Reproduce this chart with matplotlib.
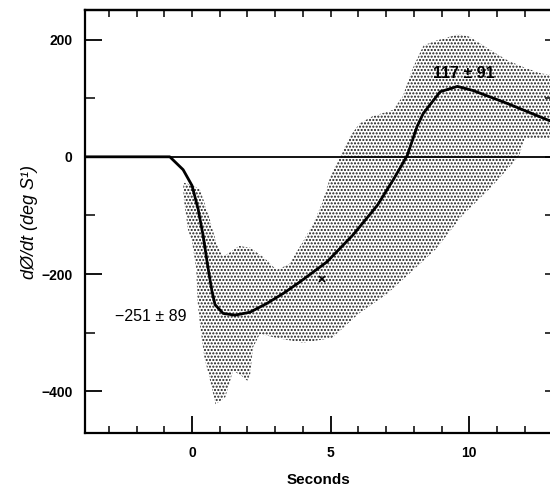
import numpy as np
import matplotlib
matplotlib.use('Agg')
import matplotlib.pyplot as plt

plt.rcParams['font.family'] = ['Liberation Sans', 'DejaVu Sans']
plt.rcParams['hatch.linewidth'] = 1.0

# mean angular velocity trace (s, deg/s)
mean_t = [-3.86, -0.8, -0.32, 0.0, 0.22, 0.4, 0.58, 0.72, 0.83, 1.12, 1.55, 2.09,
          2.7, 3.29, 3.9, 4.87, 5.81, 6.68, 7.26, 7.76, 8.12, 8.34, 8.95, 9.57,
          10.14, 11.37, 12.82, 13.0]
mean_v = [0, 0, -22, -49, -89, -134, -190, -229, -252, -267, -270, -265,
          -250, -233, -213, -179, -133, -83, -39, 2, 52, 74, 111, 120,
          113, 91, 63, 60]

# outline of the individual-trial scatter (clockwise from top left)
cloud_t = [-0.32, 0.0, 0.29, 0.6, 0.9, 1.1, 1.3, 1.7, 2.1, 2.6, 3.05, 3.5,
           4.0, 4.4, 4.7, 5.0, 5.35, 5.7, 6.05, 6.5, 7.25, 7.6, 7.95, 8.35,
           8.8, 9.6, 10.0, 10.8, 11.4, 12.0, 12.6, 13.0,
           13.0, 12.0, 11.8, 11.4, 10.7, 9.75, 8.8, 7.8, 7.0, 6.0, 5.05, 4.0,
           3.65, 3.05, 2.45, 2.2, 2.1, 2.0, 1.75, 1.48, 1.2, 0.85, 0.65, 0.45,
           0.3, 0.2, 0.15, 0.0, -0.15, -0.3]
cloud_v = [-44, -48, -56, -100, -150, -170, -165, -152, -155, -172, -193, -183,
           -145, -111, -78, -32, 2, 35, 57, 69, 80, 103, 150, 190,
           198, 209, 205, 181, 164, 152, 142, 140,
           30, 32, 2, -20, -56, -100, -157, -201, -235, -268, -309, -317,
           -314, -309, -302, -325, -370, -382, -372, -365, -410, -422, -381, -343,
           -292, -246, -190, -145, -123, -70]

peak_neg = -251
sd_neg = 89
peak_pos = 117
sd_pos = 91

fig = plt.figure(figsize=(5.5, 4.86), dpi=100)
ax = fig.add_axes([0.1545, 0.109, 0.85, 0.870])

ax.fill(cloud_t, cloud_v, facecolor='none', edgecolor='#1a1a1a',
        hatch='.....', linewidth=0, zorder=1)
ax.axhline(0, color='black', lw=1.3, zorder=2)
ax.plot(mean_t, mean_v, color='black', lw=2.0, zorder=3)
ax.plot(4.7, -208, marker='x', color='black', ms=4, mew=1.2, zorder=3)

ax.text(-2.78, -273, f'\u2212{abs(peak_neg)} \u00b1 {sd_neg}', fontsize=11.5,
        ha='left', va='center', zorder=4)
ax.text(9.82, 142, f'{peak_pos} \u00b1 {sd_pos}', fontsize=11.5, fontweight='bold',
        ha='center', va='center', zorder=4)

ax.set_xlim(-3.86, 13.0)
ax.set_ylim(-471, 250)
ax.set_xticks([0, 5, 10])
ax.set_xticks(np.arange(-3, 13), minor=True)
ax.set_yticks([-400, -200, 0, 200])
ax.set_yticks([-300, -100, 100], minor=True)
ax.set_yticklabels(['\u2212400', '\u2212200', '0', '200'])

ax.tick_params(which='major', direction='in', length=12, width=1.3,
               labelsize=10, pad=9)
ax.tick_params(which='minor', direction='in', length=5, width=1.1)
ax.tick_params(axis='y', which='minor', length=7)
for lab in ax.get_xticklabels() + ax.get_yticklabels():
    lab.set_fontweight('bold')

# short ticks on the top and right frame
top = ax.secondary_xaxis('top')
top.set_xticks(np.arange(-3, 13))
top.tick_params(direction='in', length=5, width=1.1, labeltop=False)
right = ax.secondary_yaxis('right')
right.set_yticks(np.arange(-400, 250, 100))
right.tick_params(direction='in', length=5, width=1.1, labelright=False)
for s in list(ax.spines.values()) + list(top.spines.values()) + list(right.spines.values()):
    s.set_linewidth(1.6)

ax.set_xlabel('Seconds', fontsize=11, fontweight='bold', labelpad=10)
ax.set_ylabel('d\u00d8/dt (deg S\u00b9)', fontsize=13, fontstyle='italic',
              labelpad=2)

fig.savefig('out.png', dpi=100)
